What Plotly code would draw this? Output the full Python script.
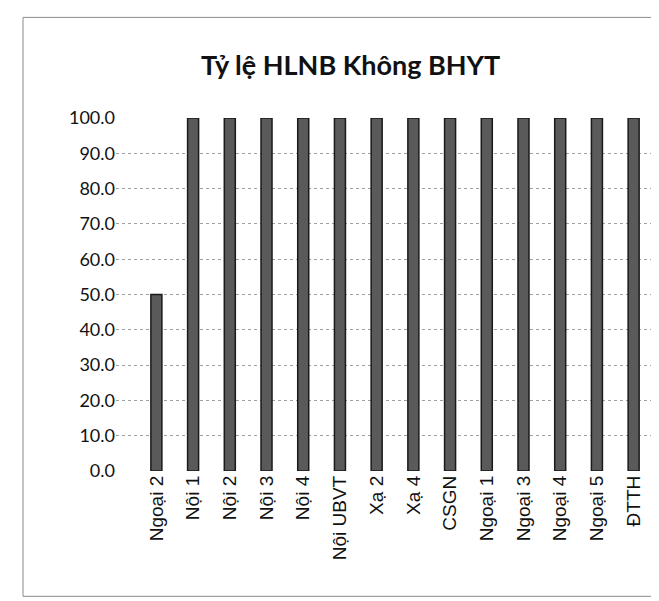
import plotly.graph_objects as go

categories = ["Ngoại 2", "Nội 1", "Nội 2", "Nội 3", "Nội 4", "Nội UBVT", "Xạ 2",
              "Xạ 4", "CSGN", "Ngoại 1", "Ngoại 3", "Ngoại 4", "Ngoại 5", "ĐTTH"]
values = [50.0, 100.0, 100.0, 100.0, 100.0, 100.0, 100.0,
          100.0, 100.0, 100.0, 100.0, 100.0, 100.0, 100.0]
y_ticks = [0, 10, 20, 30, 40, 50, 60, 70, 80, 90, 100]

fig = go.Figure()
fig.add_trace(go.Bar(
    x=list(range(len(categories))), y=values, width=0.3,
    marker=dict(color="#5a5a5a", line=dict(color="#1a1a1a", width=1.5)),
))

fig.update_layout(
    width=659, height=601,
    margin=dict(l=108, r=4, t=110, b=138, autoexpand=False),
    paper_bgcolor="white", plot_bgcolor="white",
    showlegend=False,
    title=dict(text="<b>Tỷ lệ HLNB Không BHYT</b>", x=0.52, xanchor="center", y=0.905, yanchor="middle",
               font=dict(family="Lato", size=27, color="#111")),
    xaxis=dict(
        tickmode="array", tickvals=list(range(len(categories))), ticktext=categories,
        tickangle=-90, range=[-1.1, 13.8], showgrid=False, zeroline=False,
        showline=False, tickfont=dict(family="Liberation Sans", size=19, color="#111"),
    ),
    yaxis=dict(
        range=[0, 100], tickvals=y_ticks, tickformat=".1f",
        showgrid=True, gridcolor="#a0a0a0", griddash="dot", gridwidth=1,
        zeroline=False, showline=False, ticks="", ticklen=0,
        tickfont=dict(family="Lato", size=18, color="#111"),
    ),
    shapes=[dict(type="rect", xref="paper", yref="paper",
                 x0=-0.17, x1=1.003, y0=-0.355, y1=1.285,
                 line=dict(color="#8a8a8a", width=1))],
)

fig.write_html("out.html")
